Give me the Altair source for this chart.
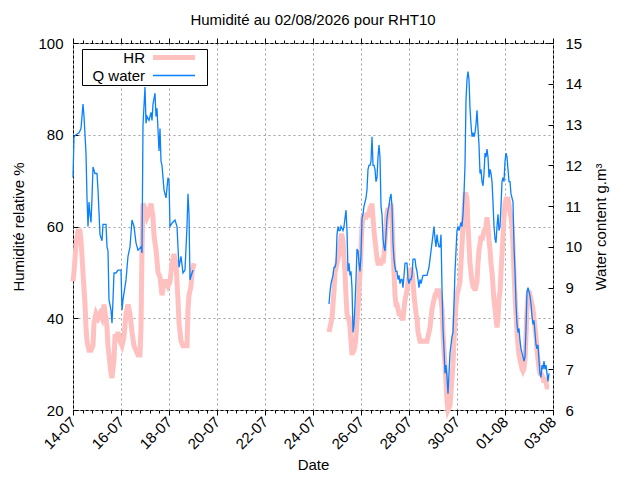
import altair as alt
import pandas as pd

FONT = "Liberation Sans"
TITLE = "Humidité au 02/08/2026 pour RHT10"
SERIES = ["HR", "Q water"]
COLORS = ["#ffc0c0", "#0a80ff"]
X_MAJOR_DAYS = [0, 2, 4, 6, 8, 10, 12, 14, 16, 18, 20]
HR_TICKS = [20, 40, 60, 80, 100]
Q_TICKS = [6, 7, 8, 9, 10, 11, 12, 13, 14, 15]

# ---- segment 1 : hours since 14-07 00:00 ----
hr1_hours = [0, 1, 3, 5, 7, 8, 10, 12, 13, 14, 16, 18, 20, 21, 23, 25, 27, 29, 31, 33,
             34, 35, 37, 38, 39, 41, 42, 44, 45, 47, 49, 51, 53, 55, 57, 59, 61, 63, 65, 67,
             68, 69, 70, 72, 74, 76, 78, 80, 81, 83, 85, 87, 89, 91, 93, 95, 97, 99, 101, 103,
             104, 105, 106, 108, 110, 112, 114, 115, 116, 118, 119, 121]
hr1_vals = [48, 50, 56, 59, 59, 57, 50, 43, 38, 35, 33, 33, 34, 39, 41, 40, 41, 40, 43, 40,
            38, 34, 30, 28, 27, 31, 36, 36, 37, 35, 34, 36, 41, 43, 41, 37, 34, 33, 32, 32,
            38, 55, 65, 64, 62, 63, 65, 62, 58, 55, 50, 49, 45, 48, 48, 47, 48, 52, 54, 52,
            48, 44, 39, 35, 34, 34, 34, 42, 45, 47, 50, 52]

q1_hours = [0, 1, 3, 6, 8, 9, 10, 11, 13, 14, 15, 16, 17, 18, 19, 20, 22, 24, 25, 27,
            29, 30, 33, 34, 35, 36, 38, 39, 40, 41, 43, 45, 48, 49, 50, 53, 55, 57, 59, 61,
            63, 65, 68, 69, 70, 72, 73, 74, 76, 78, 79, 80, 82, 83, 84, 86, 87, 88, 89, 91,
            93, 95, 96, 97, 99, 102, 104, 106, 108, 110, 112, 114, 115, 116, 117, 119, 120]
q1_vals = [11.7, 12.7, 12.75, 12.8, 12.9, 13.2, 13.5, 13.2, 12.3, 11.2,
           10.5, 11.1, 10.8, 10.6, 11.2, 11.96, 11.8, 11.8, 11.4, 10.3,
           10.15, 10.55, 10.55, 10.0, 9.9, 8.7, 8.45, 8.13, 8.7, 9.36,
           9.36, 9.43, 9.43, 8.45, 8.7, 9.19, 9.77, 10.0, 10.66, 10.5,
           10.1, 9.92, 10.0, 9.85, 13.0, 13.92, 13.03, 13.2, 13.1, 13.3,
           13.1, 13.5, 13.77, 13.2, 13.4, 12.35, 12.9, 12.1, 12.0, 11.4,
           11.2, 11.7, 11.6, 10.5, 10.58, 10.66, 10.5, 9.5, 9.77, 9.36,
           9.43, 10.5, 11.3, 10.8, 9.19, 9.36, 9.43]

# ---- segment 2 : hourly readings from 24-07 16:00 ----
seg2_hours = list(range(256, 477))
hr2_vals = [37, 38, 39, 40, 43, 46, 50, 51, 52, 53,
            54, 56, 58, 58, 57, 53, 50, 45, 41, 40,
            40, 38, 35, 32, 33, 33, 34, 36, 40, 42,
            46, 50, 55, 60, 62, 62, 62, 62, 63, 62,
            63, 64, 64, 65, 62, 59, 57, 55, 53, 52,
            52, 52, 52, 53, 52, 54, 57, 60, 63, 64,
            62, 64, 65, 62, 55, 50, 45, 43, 43, 42,
            41, 41, 41, 40, 40, 42, 44, 45, 46, 48,
            49, 50, 51, 50, 48, 45, 43, 41, 40, 37,
            36, 35, 35, 35, 35, 35, 35, 35, 35, 36,
            37, 38, 40, 42, 43, 44, 45, 45, 46, 46,
            46, 45, 44, 42, 37, 33, 30, 26, 22, 20,
            20.5, 21, 24, 27, 30, 35, 40, 43, 45, 46,
            47, 48, 52, 56, 60, 63, 67, 67, 66, 60,
            56, 52, 50, 48, 47, 47, 46, 47, 48, 52,
            55, 56, 58, 57, 58, 59, 59, 60, 62, 60,
            57, 55, 52, 50, 47, 44, 42, 40, 38, 40,
            44, 46, 50, 54, 58, 62, 65, 66, 66, 66,
            65, 63, 62, 60, 56, 50, 45, 41, 37, 34,
            32, 31, 30, 29, 28.5, 29, 31, 36, 42, 45,
            46, 45, 44, 43, 42, 40, 38, 36, 33, 31,
            29, 28, 28, 27.5, 27, 26, 27, 26, 25, 25,
            25]
q2_vals = [8.6, 8.9, 9.1, 9.2, 9.3, 9.5, 9.5, 9.6, 10.3, 10.5,
           10.4, 10.4, 10.5, 10.45, 10.4, 10.5, 10.7, 10.9, 10.4, 9.4,
           9.6, 9.3, 9.4, 9.0, 7.9, 8.1, 8.6, 9.2, 9.95, 9.9,
           9.6, 9.4, 9.8, 10.7, 10.8, 11.0, 11.1, 11.2, 11.4, 11.9,
           12.0, 12.0, 12.1, 12.7, 12.0, 12.0, 11.9, 11.6, 11.7, 12.2,
           12.5, 12.2, 11.0, 10.8, 10.2, 10.0, 9.9, 10.3, 10.7, 10.9,
           11.0, 11.2, 11.3, 11.0, 10.1, 9.7, 9.5, 9.4, 9.4, 9.2,
           9.3, 9.1, 9.2, 9.2, 9.0, 9.3, 9.6, 9.6, 9.6, 9.2,
           9.1, 9.2, 9.2, 9.3, 9.7, 9.7, 9.7, 9.5, 9.4, 9.2,
           9.0, 9.2, 9.1, 9.2, 9.3, 9.3, 9.3, 9.3, 9.3, 9.4,
           9.5, 9.7, 9.9, 10.1, 10.3, 10.5, 10.2, 10.0, 10.3, 10.1,
           10.0, 10.0, 10.3, 9.0, 8.0, 7.5, 6.9, 7.1, 6.8, 6.4,
           6.9, 7.4, 7.6, 7.8, 7.9, 8.6, 9.4, 9.9, 10.4, 10.5,
           10.4, 10.5, 10.6, 10.5, 10.8, 11.3, 12.0, 13.6, 14.1, 14.3,
           14.1, 13.4, 13.0, 12.7, 12.8, 12.7, 12.8, 13.0, 13.35, 12.9,
           12.5, 11.8, 11.9, 11.6, 11.5, 11.8, 12.3, 12.2, 12.4, 12.2,
           11.7, 11.9, 11.8, 11.6, 11.1, 10.5, 10.2, 10.1, 10.5, 10.8,
           10.4, 10.5, 11.0, 11.6, 11.7, 11.6, 12.1, 12.3, 12.2, 11.9,
           11.6, 11.6, 11.3, 11.2, 11.1, 10.0, 9.4, 8.6, 8.1, 7.9,
           8.0, 7.7, 7.5, 7.4, 7.3, 7.2, 7.3, 8.0, 8.9, 9.0,
           8.9, 8.8, 8.6, 8.3, 8.1, 8.2, 7.9, 7.6, 7.5, 7.6,
           7.2, 6.9, 6.8, 7.1, 7.0, 7.2, 7.0, 7.1, 6.9, 6.7,
           6.9]


def frame(hours, vals, series, seg):
    return pd.DataFrame({"day": [h / 24.0 for h in hours], "value": vals,
                         "series": series, "seg": seg})


df_hr = pd.concat([frame(hr1_hours, hr1_vals, "HR", 1),
                   frame(seg2_hours, hr2_vals, "HR", 2)], ignore_index=True)
df_q = pd.concat([frame(q1_hours, q1_vals, "Q water", 1),
                  frame(seg2_hours, q2_vals, "Q water", 2)], ignore_index=True)

W, H = 480, 367
x_minor = [round(0.4 * i, 2) for i in range(51)]
x_scale = alt.Scale(domain=[0, 20], nice=False, zero=False)
hr_scale = alt.Scale(domain=[20, 100], nice=False, zero=False)
q_scale = alt.Scale(domain=[6, 15], nice=False, zero=False)
label_expr = "timeFormat(datetime(2026, 6, 14 + datum.value), '%d-%m')"
GRID = dict(gridColor="#a0a0a0", gridDash=[2, 3], gridWidth=1)

# legend: text on the left, line sample on the right (gnuplot style)
leg = alt.Legend(title=None, orient="none", legendX=9, legendY=6, direction="vertical",
                 symbolType="M-5,0H5", symbolSize=70.6, labelFontSize=15, labelFont=FONT,
                 labelColor="black", labelAlign="right", labelOffset={"expr": "-36.5"},
                 symbolOffset=83.5, strokeColor="black", fillColor="white",
                 padding=1, rowPadding=0)
color = alt.Color("series:N", scale=alt.Scale(domain=SERIES, range=COLORS), legend=leg)
swidth = alt.StrokeWidth("series:N", scale=alt.Scale(domain=SERIES, range=[5, 1.3]), legend=leg)

hr_line = alt.Chart(df_hr).mark_line().encode(
    x=alt.X("day:Q", scale=x_scale, axis=alt.Axis(
        orient="bottom", values=X_MAJOR_DAYS, labelExpr=label_expr, labelAngle=-45,
        labelAlign="right", labelBaseline="middle", labelPadding=4, labelFlush=False,
        labelOverlap=False, tickSize=5, ticks=True, domain=False, grid=True, title="Date",
        titlePadding=6, **GRID)),
    y=alt.Y("value:Q", scale=hr_scale, axis=alt.Axis(
        orient="left", values=HR_TICKS, ticks=False, domain=False, grid=True,
        labelPadding=10, title="Humidité relative %", titlePadding=11, **GRID)),
    color=color, strokeWidth=swidth, detail="seg:N",
)

q_line = alt.Chart(df_q).mark_line().encode(
    x=alt.X("day:Q", scale=x_scale, axis=alt.Axis(
        orient="top", values=X_MAJOR_DAYS, labels=False, tickSize=5, domain=False,
        grid=False, title=None)),
    y=alt.Y("value:Q", scale=q_scale, axis=alt.Axis(
        orient="right", values=Q_TICKS, ticks=False, domain=False, grid=False,
        labelPadding=12, title="Water content g.m³", titleAngle=270,
        titleBaseline="top", titlePadding=12)),
    color=color, strokeWidth=swidth, detail="seg:N",
)

hr_ticks = alt.Chart(df_hr).mark_line(opacity=0).encode(
    x=alt.X("day:Q", scale=x_scale, axis=alt.Axis(
        orient="bottom", values=x_minor, labels=False, tickSize=3, domain=False,
        grid=False, title=None)),
    y=alt.Y("value:Q", scale=hr_scale, axis=alt.Axis(
        orient="right", offset=-W, values=HR_TICKS, labels=False, tickSize=5,
        domain=False, grid=False, title=None)),
    detail="seg:N",
)

q_ticks = alt.Chart(df_q).mark_line(opacity=0).encode(
    x=alt.X("day:Q", scale=x_scale, axis=alt.Axis(
        orient="top", values=x_minor, labels=False, tickSize=3, domain=False,
        grid=False, title=None)),
    y=alt.Y("value:Q", scale=q_scale, axis=alt.Axis(
        orient="left", offset=-W, values=Q_TICKS, labels=False, tickSize=5,
        domain=False, grid=False, title=None)),
    detail="seg:N",
)

chart = alt.layer(hr_ticks, q_ticks, hr_line, q_line).resolve_scale(
    y="independent"
).resolve_axis(
    x="independent", y="independent"
).properties(
    width=W, height=H,
    title=alt.Title(TITLE, font=FONT, fontSize=15, fontWeight="normal", color="black",
                    anchor="middle", frame="group", offset=8),
    padding={"left": 65, "top": 35, "right": 79, "bottom": 64},
    autosize=alt.AutoSizeParams(type="none"),
    background="white",
).configure_view(
    stroke="black", strokeWidth=1
).configure_axis(
    labelFont=FONT, labelFontSize=15, labelColor="black",
    titleFont=FONT, titleFontSize=15, titleFontWeight="normal", titleColor="black",
    tickColor="black", tickWidth=1,
)

chart.save("out.html", embed_options={"renderer": "svg", "actions": False})
